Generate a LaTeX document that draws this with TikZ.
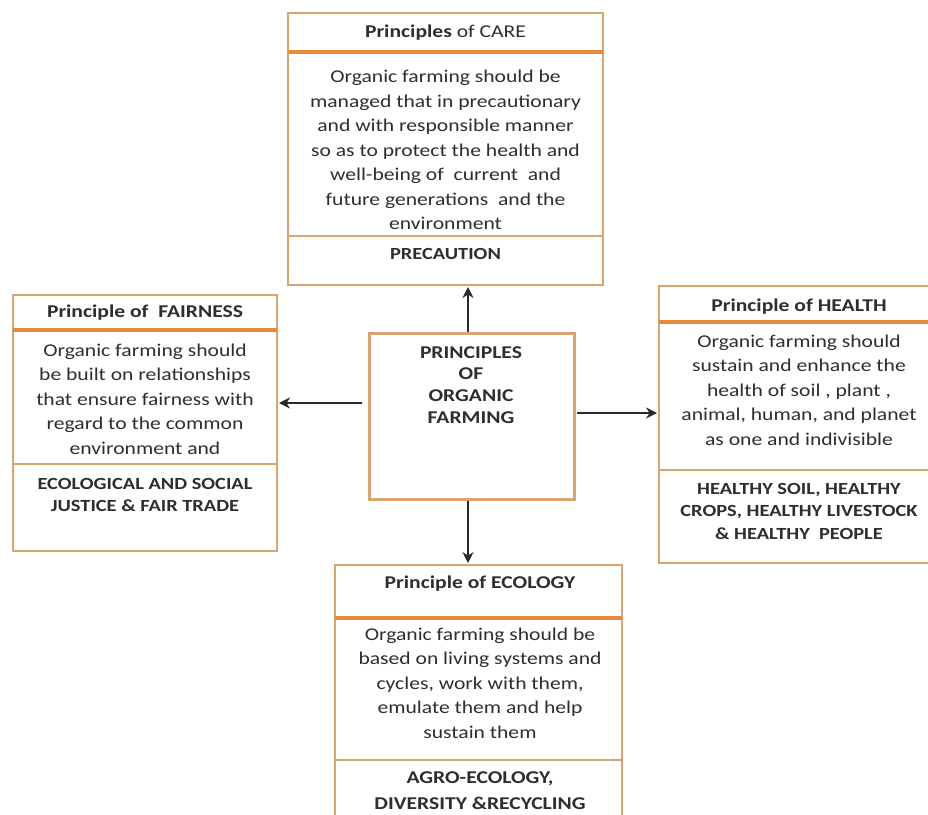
\documentclass[tikz,border=0pt]{standalone}
\usepackage{fontspec}
\setmainfont{Carlito}[FakeStretch=1.2]
\usetikzlibrary{arrows.meta}
\definecolor{boxline}{HTML}{D9A46E}
\definecolor{headline}{HTML}{E88A3C}
\definecolor{txt}{HTML}{2E2E2E}
\definecolor{arr}{HTML}{2A2A2A}
\tikzset{
  pbox/.style={draw=boxline, line width=2.5pt, fill=white},
  hdiv/.style={draw=headline, line width=4pt},
  bdiv/.style={draw=boxline, line width=2.5pt},
  body/.style={align=center, text=txt, font=\fontsize{18}{24.5}\selectfont, inner sep=0pt},
  head/.style={align=center, text=txt, font=\bfseries\fontsize{18}{22}\selectfont, inner sep=0pt},
  caps/.style={align=center, text=txt, font=\bfseries\fontsize{17}{22.5}\selectfont, inner sep=0pt},
  conn/.style={draw=arr, line width=2.6pt, -{Stealth[length=11pt,width=11pt]}}
}
\begin{document}
\begin{tikzpicture}[x=1pt,y=-1pt]
\useasboundingbox (0,0) rectangle (928,814);
\fill[white] (0,0) rectangle (928,814);

% ---- CARE (top)
\draw[pbox] (288,13) rectangle (603,285);
\coordinate (care-hl) at (288,52); \coordinate (care-hr) at (603,52);
\coordinate (care-bl) at (288,236); \coordinate (care-br) at (603,236);
\draw[hdiv] (care-hl) -- (care-hr);
\draw[bdiv] (care-bl) -- (care-br);
\node[head] (careh) at (445.5,33) {Principles \mdseries of CARE};
\node[body] (careb) at (445.5,150) {Organic farming should be\\managed that in precautionary\\and with responsible manner\\so as to protect the health and\\well-being of~ current~ and\\future generations~ and the\\environment};
\node[caps] (carec) at (445.5,254) {PRECAUTION};
\coordinate (care) at (468,287);

% ---- FAIRNESS (left)
\draw[pbox] (13,295) rectangle (277,551);
\coordinate (fair-hl) at (13,330); \coordinate (fair-hr) at (277,330);
\coordinate (fair-bl) at (13,464); \coordinate (fair-br) at (277,464);
\draw[hdiv] (fair-hl) -- (fair-hr);
\draw[bdiv] (fair-bl) -- (fair-br);
\node[head] (fairh) at (145,313) {Principle of~ FAIRNESS};
\node[body] (fairb) at (145,399) {Organic farming should\\be built on relationships\\that ensure fairness with\\regard to the common\\environment and};
\node[caps] (fairc) at (145,495) {ECOLOGICAL AND SOCIAL\\JUSTICE \& FAIR TRADE};
\coordinate (fair) at (279,403);

% ---- HEALTH (right)
\draw[pbox] (659,286) rectangle (940,563);
\coordinate (heal-hl) at (659,322); \coordinate (heal-hr) at (940,322);
\coordinate (heal-bl) at (659,470); \coordinate (heal-br) at (940,470);
\draw[hdiv] (heal-hl) -- (heal-hr);
\draw[bdiv] (heal-bl) -- (heal-br);
\node[head] (healh) at (799,307) {Principle of HEALTH};
\node[body] (healb) at (799,390) {Organic farming should\\sustain and enhance the\\health of soil , plant ,\\animal, human, and planet\\as one and indivisible};
\node[caps] (healc) at (799,511) {HEALTHY SOIL, HEALTHY\\CROPS, HEALTHY LIVESTOCK\\\& HEALTHY~ PEOPLE};
\coordinate (heal) at (657,413);

% ---- ECOLOGY (bottom)
\draw[pbox] (335,565) rectangle (622,830);
\coordinate (eco-hl) at (335,618); \coordinate (eco-hr) at (622,618);
\coordinate (eco-bl) at (335,760); \coordinate (eco-br) at (622,760);
\draw[hdiv] (eco-hl) -- (eco-hr);
\draw[bdiv] (eco-bl) -- (eco-br);
\node[head] (ecoh) at (480,584) {Principle of ECOLOGY};
\node[body] (ecob) at (480,683) {Organic farming should be\\based on living systems and\\cycles, work with them,\\emulate them and help\\sustain them};
\node[caps, font=\bfseries\fontsize{18}{26}\selectfont] (ecoc) at (480,791) {AGRO-ECOLOGY,\\DIVERSITY \&RECYCLING};
\coordinate (eco) at (468,563);

% ---- centre
\node[pbox, minimum width=205pt, minimum height=166pt, anchor=north west, inner sep=0pt] (center) at (368,332) {};
\node[caps, font=\bfseries\fontsize{18}{21.7}\selectfont] (centert) at (471,385) {PRINCIPLES\\OF\\ORGANIC\\FARMING};
\coordinate (lstart) at (362,403);
\coordinate (rstart) at (577,413);

% ---- connectors
\draw[conn] (center.north -| care) -- (care);
\draw[conn] (center.south -| eco) -- (eco);
\draw[conn] (lstart) -- (fair);
\draw[conn] (rstart) -- (heal);
\end{tikzpicture}
\end{document}
